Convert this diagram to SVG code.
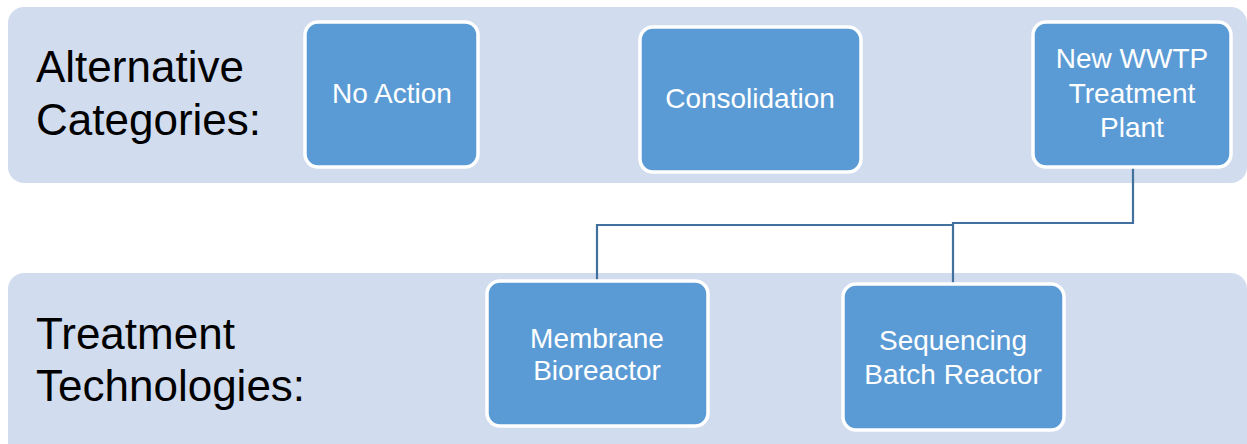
<svg xmlns="http://www.w3.org/2000/svg" width="1247" height="444" viewBox="0 0 1247 444">
<style>
.band{fill:#D1DCEE;}
.box{fill:#5B9BD5;stroke:#FFFFFF;stroke-width:3.5;}
.lbl{font-family:"Liberation Sans",Arial,sans-serif;font-size:44px;fill:#000000;}
.txt{font-family:"Liberation Sans",Arial,sans-serif;font-size:28px;fill:#FFFFFF;text-anchor:middle;}
.conn{fill:none;stroke:#41719C;stroke-width:2.2;}
</style>
<rect width="1247" height="444" fill="#FFFFFF"/>
<g id="band-top">
<rect class="band" x="8" y="7" width="1239" height="176" rx="16"/>
<text class="lbl" x="36" y="82">Alternative</text>
<text class="lbl" x="36" y="135">Categories:</text>
</g>
<g id="band-bottom">
<rect class="band" x="8" y="273" width="1239" height="190" rx="16"/>
<text class="lbl" x="36" y="349">Treatment</text>
<text class="lbl" x="36" y="401">Technologies:</text>
</g>
<g id="connectors">
<polyline class="conn" points="1133,167 1133,223 953,223 953,284"/>
<polyline class="conn" points="953,225 597,225 597,281"/>
</g>
<g id="no-action">
<rect class="box" x="305" y="22" width="173" height="145" rx="13"/>
<text class="txt" x="392" y="103">No Action</text>
</g>
<g id="consolidation">
<rect class="box" x="640" y="27" width="221" height="145" rx="13"/>
<text class="txt" x="750" y="108">Consolidation</text>
</g>
<g id="new-wwtp">
<rect class="box" x="1033" y="22" width="198" height="145" rx="13"/>
<text class="txt" x="1132" y="68">New WWTP</text>
<text class="txt" x="1132" y="103">Treatment</text>
<text class="txt" x="1132" y="137">Plant</text>
</g>
<g id="membrane">
<rect class="box" x="487" y="281" width="221" height="145" rx="13"/>
<text class="txt" x="597" y="348">Membrane</text>
<text class="txt" x="597" y="380">Bioreactor</text>
</g>
<g id="sbr">
<rect class="box" x="843" y="284" width="221" height="146" rx="13"/>
<text class="txt" x="953" y="350">Sequencing</text>
<text class="txt" x="953" y="384">Batch Reactor</text>
</g>
</svg>
